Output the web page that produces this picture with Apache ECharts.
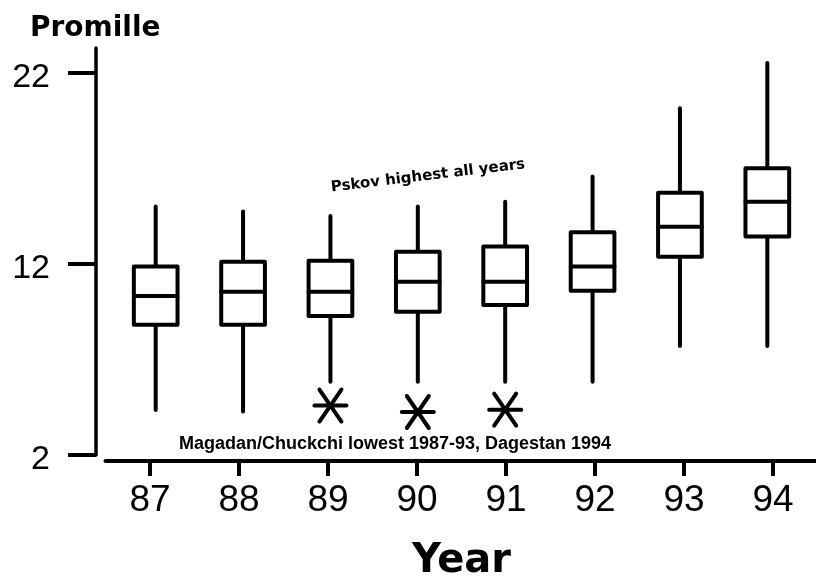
<!DOCTYPE html>
<html><head><meta charset="utf-8">
<script src="https://cdn.jsdelivr.net/npm/echarts@6/dist/echarts.min.js"></script>
<style>html,body{margin:0;padding:0;background:#fff}#c{width:816px;height:578px}</style>
</head><body><div id="c"></div>
<script>
// ---- data ----
const years = ['87', '88', '89', '90', '91', '92', '93', '94'];
const whiskerLow  = [4.36, 4.27, 5.84, 5.84, 5.84, 5.84, 7.71, 7.71];
const q1          = [8.81, 8.81, 9.28, 9.50, 9.85, 10.60, 12.38, 13.43];
const median      = [10.32, 10.55, 10.55, 11.07, 11.07, 11.86, 13.95, 15.26];
const q3          = [11.86, 12.12, 12.16, 12.64, 12.91, 13.66, 15.73, 17.01];
const whiskerHigh = [15.00, 14.74, 14.51, 15.00, 15.26, 16.57, 20.15, 22.51];
const outlierYears  = ['89', '90', '91'];
const outlierValues = [4.59, 4.25, 4.37];
const yTicks = [2, 12, 22];

const chart = echarts.init(document.getElementById('c'), null, {renderer: 'canvas'});
const boxData = years.map((y, i) => [i, whiskerLow[i], q1[i], median[i], q3[i], whiskerHigh[i]]);
const outData = outlierYears.map((y, k) => [years.indexOf(y), outlierValues[k]]);

const LW = 4;
const ink = '#000';
const lineStyle = {stroke: ink, lineWidth: LW, lineCap: 'round', lineJoin: 'round'};

function renderBox(params, api) {
  const i = api.value(0);
  const pMin = api.coord([i, api.value(1)]);
  const pQ1 = api.coord([i, api.value(2)]);
  const pMed = api.coord([i, api.value(3)]);
  const pQ3 = api.coord([i, api.value(4)]);
  const pMax = api.coord([i, api.value(5)]);
  const half = api.size([1, 0])[0] * 0.25;
  const cx = pMed[0];
  return {
    type: 'group',
    children: [
      {type: 'line', shape: {x1: cx, y1: pMax[1], x2: cx, y2: pQ3[1]}, style: lineStyle},
      {type: 'line', shape: {x1: cx, y1: pQ1[1], x2: cx, y2: pMin[1]}, style: lineStyle},
      {type: 'rect', shape: {x: cx - half, y: pQ3[1], width: half * 2, height: pQ1[1] - pQ3[1]},
       style: {fill: '#fff', stroke: ink, lineWidth: LW, lineJoin: 'round'}},
      {type: 'line', shape: {x1: cx - half, y1: pMed[1], x2: cx + half, y2: pMed[1]}, style: lineStyle}
    ]
  };
}

function renderStar(params, api) {
  const p = api.coord([api.value(0), api.value(1)]);
  const hx = 16, dx = 11, dy = 16;
  return {
    type: 'group',
    children: [
      {type: 'line', shape: {x1: p[0] - hx, y1: p[1], x2: p[0] + hx, y2: p[1]}, style: lineStyle},
      {type: 'line', shape: {x1: p[0] - dx, y1: p[1] - dy, x2: p[0] + dx, y2: p[1] + dy}, style: lineStyle},
      {type: 'line', shape: {x1: p[0] + dx, y1: p[1] - dy, x2: p[0] - dx, y2: p[1] + dy}, style: lineStyle}
    ]
  };
}

const option = {
  animation: false,
  backgroundColor: '#fff',
  title: {
    text: 'Promille', left: 25, top: 10,
    textStyle: {fontFamily: 'DejaVu Sans', fontWeight: 'bold', fontSize: 28, color: ink}
  },
  grid: [
    {left: 105.5, right: -1.5, top: 48, bottom: 123, outerBoundsMode: 'none', containLabel: false},
    {left: 112, right: 5, top: 48, bottom: 123, outerBoundsMode: 'none', containLabel: false}
  ],
  xAxis: [
    {
      gridIndex: 0, type: 'category', data: years, offset: 6,
      axisLine: {show: true, onZero: false, lineStyle: {color: ink, width: 4}},
      axisTick: {show: true, alignWithLabel: true, length: 15, lineStyle: {width: 4, color: ink}},
      axisLabel: {fontFamily: 'Liberation Sans', fontSize: 37, color: ink, margin: 21},
      splitLine: {show: false},
      name: 'Year', nameLocation: 'middle', nameGap: 81,
      nameTextStyle: {fontFamily: 'DejaVu Sans', fontWeight: 'bold', fontSize: 40, color: ink}
    },
    {gridIndex: 1, type: 'category', data: years, show: false}
  ],
  yAxis: [
    {
      gridIndex: 0, type: 'value', min: 2, max: 23.3, offset: 9.5,
      axisLine: {show: true, lineStyle: {color: ink, width: 3.5}},
      axisTick: {show: true, length: 28, customValues: yTicks, lineStyle: {width: 4, color: ink}},
      axisLabel: {
        customValues: yTicks, color: ink, margin: 46,
        formatter: v => '{t|' + v + '}',
        rich: {t: {fontFamily: 'Liberation Sans', fontSize: 34, color: ink, padding: [10, 0, 0, 0]}}
      },
      splitLine: {show: false}
    },
    {gridIndex: 1, type: 'value', min: 2, max: 23.3, show: false, splitLine: {show: false}}
  ],
  series: [
    {type: 'custom', xAxisIndex: 1, yAxisIndex: 1, data: boxData, encode: {x: 0, y: [1, 2, 3, 4, 5]}, renderItem: renderBox, z: 3},
    {type: 'custom', xAxisIndex: 1, yAxisIndex: 1, data: outData, encode: {x: 0, y: 1}, renderItem: renderStar, z: 3}
  ],
  graphic: [
    {type: 'text', x: 428, y: 176, rotation: 0.12, z: 10,
     style: {text: 'Pskov highest all years', fontFamily: 'DejaVu Sans', fontSize: 15, fontWeight: 600, fill: ink, align: 'center', verticalAlign: 'middle'}},
    {type: 'text', x: 395, y: 444, z: 10,
     style: {text: 'Magadan/Chuckchi lowest 1987-93, Dagestan 1994', fontFamily: 'Liberation Sans', fontSize: 18, fontWeight: 'bold', fill: ink, align: 'center', verticalAlign: 'middle'}}
  ]
};
chart.setOption(option);
</script>
</body></html>
